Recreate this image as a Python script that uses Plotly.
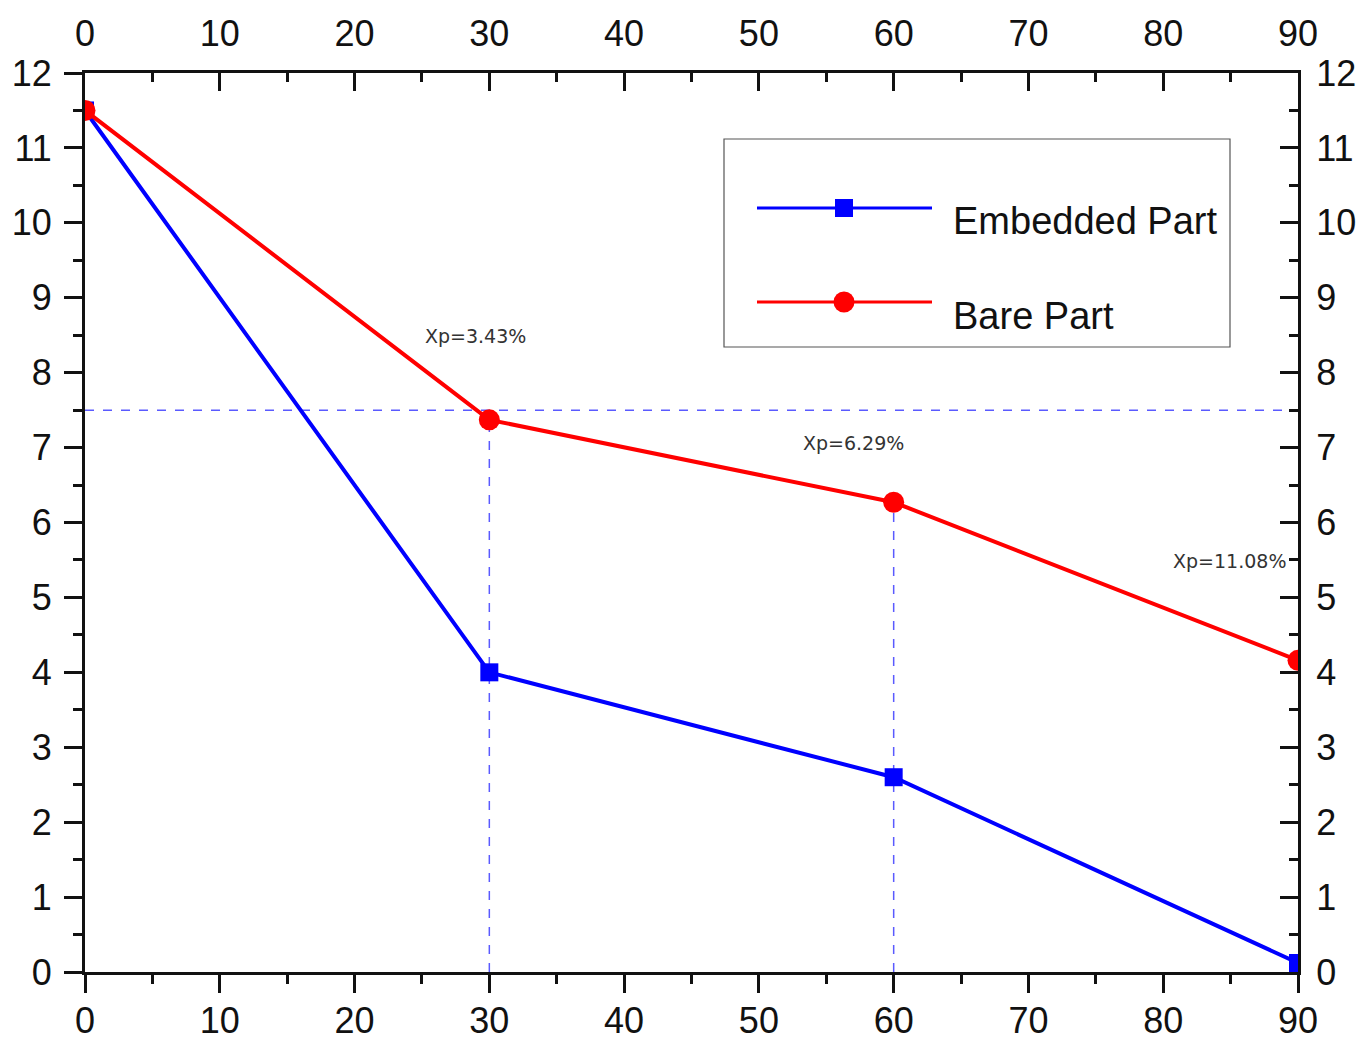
import plotly.graph_objects as go

# ---- data ----
x_vals = [0, 30, 60, 90]
embedded = [11.5, 4.0, 2.6, 0.12]
bare = [11.5, 7.37, 6.27, 4.16]
series_names = ["Embedded Part", "Bare Part"]
ref_level = 7.5
annot_labels = ["Xp=3.43%", "Xp=6.29%", "Xp=11.08%"]
x_ticks = [0, 10, 20, 30, 40, 50, 60, 70, 80, 90]
y_ticks = list(range(0, 13))

# ---- style ----
BLUE = "#0000ff"
RED = "#ff0000"
DASH = "#5a5aff"
FONT = "Liberation Sans, Arial, sans-serif"
annot_pos = [(29.0, 8.49), (57.0, 7.06), (84.9, 5.49)]

fig = go.Figure()
fig.add_trace(go.Scatter(x=x_vals, y=embedded, mode="lines+markers", name=series_names[0],
                         line=dict(color=BLUE, width=4),
                         marker=dict(symbol="square", size=18, color=BLUE),
                         xaxis="x", yaxis="y", cliponaxis=True))
fig.add_trace(go.Scatter(x=x_vals, y=bare, mode="lines+markers", name=series_names[1],
                         line=dict(color=RED, width=4),
                         marker=dict(symbol="circle", size=21, color=RED),
                         xaxis="x2", yaxis="y2", cliponaxis=True))

shapes = []
shapes.append(dict(type="line", xref="x", yref="y", x0=x_vals[0], x1=x_vals[-1], y0=ref_level, y1=ref_level,
                   line=dict(color=DASH, width=1.5, dash="dash"), layer="below"))
for xv, yv in zip(x_vals[1:3], bare[1:3]):
    shapes.append(dict(type="line", xref="x", yref="y", x0=xv, x1=xv, y0=0, y1=yv,
                       line=dict(color=DASH, width=1.5, dash="dash"), layer="below"))

# manual legend (paper coords, from page pixels)
def px2paper_x(px):
    return (px - 85) / 1213.0

def px2paper_y(py):
    return (972 - py) / 899.0

shapes.append(dict(type="rect", xref="paper", yref="paper",
                   x0=px2paper_x(724), x1=px2paper_x(1230), y0=px2paper_y(347), y1=px2paper_y(139),
                   line=dict(color="#555555", width=1.2), fillcolor="white", layer="above"))
for py, col in [(208, BLUE), (302, RED)]:
    shapes.append(dict(type="line", xref="paper", yref="paper",
                       x0=px2paper_x(757), x1=px2paper_x(932), y0=px2paper_y(py), y1=px2paper_y(py),
                       line=dict(color=col, width=3), layer="above"))
shapes.append(dict(type="rect", xref="paper", yref="paper",
                   x0=px2paper_x(835), x1=px2paper_x(853), y0=px2paper_y(217), y1=px2paper_y(199),
                   line=dict(color=BLUE, width=0), fillcolor=BLUE, layer="above"))
shapes.append(dict(type="circle", xref="paper", yref="paper",
                   x0=px2paper_x(833.5), x1=px2paper_x(854.5), y0=px2paper_y(312.5), y1=px2paper_y(291.5),
                   line=dict(color=RED, width=0), fillcolor=RED, layer="above"))

annotations = []
for name, py in zip(series_names, [221, 316]):
    annotations.append(dict(text=name, xref="paper", yref="paper", x=px2paper_x(951), y=px2paper_y(py),
                            xanchor="left", yanchor="middle", showarrow=False,
                            font=dict(family=FONT, size=38, color="#111111")))
for lbl, (ax_, ay_) in zip(annot_labels, annot_pos):
    annotations.append(dict(text=lbl, xref="x", yref="y", x=ax_, y=ay_, xanchor="center", yanchor="middle",
                            showarrow=False, font=dict(family="DejaVu Sans, sans-serif", size=19, color="#333333")))

def minor(dt, side):
    return dict(dtick=dt, ticklen=9, tickwidth=3, tickcolor="#111111", ticks=side)

axis_common = dict(range=[0, 90], tickvals=x_ticks, showgrid=False, zeroline=False, automargin=False,
                   showline=True, linecolor="#111111", linewidth=3,
                   tickcolor="#111111", tickwidth=3, ticklen=18,
                   tickfont=dict(family=FONT, size=36, color="#111111"))
yaxis_common = dict(range=[0, 12], tickvals=y_ticks, showgrid=False, zeroline=False, automargin=False,
                    showline=True, linecolor="#111111", linewidth=3,
                    tickcolor="#111111", tickwidth=3, ticklen=18,
                    tickfont=dict(family=FONT, size=36, color="#111111"))

xaxis = dict(axis_common, side="bottom", ticks="outside", anchor="y", ticklabelstandoff=-3, minor=minor(5, "outside"))
xaxis2 = dict(axis_common, side="top", ticks="inside", overlaying="x", anchor="y", ticklabelstandoff=10, minor=minor(5, "inside"))
yaxis = dict(yaxis_common, side="left", ticks="outside", anchor="x", ticklabelstandoff=5, minor=minor(0.5, "outside"))
yaxis2 = dict(yaxis_common, side="right", ticks="inside", overlaying="y", anchor="x", ticklabelstandoff=8, minor=minor(0.5, "inside"))

# page body has an 8px margin: shrink the figure so the plot area lands where the reference has it
fig.update_layout(
    width=1360, height=1034,
    margin=dict(l=77, r=70, t=65, b=70),
    paper_bgcolor="white", plot_bgcolor="white",
    showlegend=False,
    xaxis=xaxis, xaxis2=xaxis2, yaxis=yaxis, yaxis2=yaxis2,
    shapes=shapes, annotations=annotations,
)

fig.write_html("out.html")
